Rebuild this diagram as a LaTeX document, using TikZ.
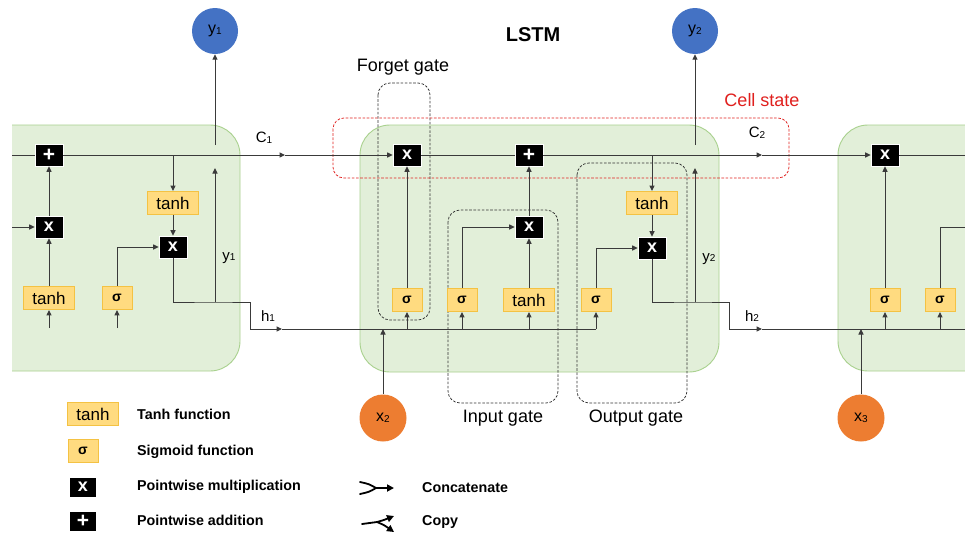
\documentclass[tikz,border=0pt]{standalone}
\usepackage{fontspec}
\setmainfont{Liberation Sans}
\usetikzlibrary{arrows.meta}

\definecolor{cellfill}{HTML}{E2EFD9}
\definecolor{celledge}{HTML}{A9D18E}
\definecolor{actfill}{HTML}{FFDB80}
\definecolor{actedge}{HTML}{F4C243}
\definecolor{outblue}{HTML}{4472C4}
\definecolor{inorange}{HTML}{ED7D31}
\definecolor{wire}{HTML}{3A3A3A}
\definecolor{statered}{HTML}{E0201E}

\newcommand\lowidx[1]{\raisebox{-0.5pt}{\fontsize{10}{10}\selectfont #1}}

\tikzset{
  cell/.style={fill=cellfill, draw=celledge, line width=0.9pt, rounded corners=30pt},
  act/.style={fill=actfill, draw=actedge, line width=0.9pt, inner sep=0pt, minimum height=23pt},
  tanhbox/.style={act, minimum width=51pt, font=\fontsize{17}{17}\selectfont},
  sigbox/.style={act, minimum width=30pt, font=\bfseries\fontsize{14}{14}\selectfont},
  opbox/.style={fill=black, draw=white, line width=0.6pt, text=white, inner sep=0pt,
                minimum width=28pt, minimum height=22pt, font=\bfseries\fontsize{18}{18}\selectfont},
  addbox/.style={opbox, font=\bfseries\fontsize{21}{21}\selectfont},
  wireline/.style={draw=wire, line width=1pt},
  flow/.style={wireline, -{Triangle[length=5.5pt,width=5pt]}},
  keyline/.style={draw=black, line width=1.8pt},
  keyflow/.style={keyline, -{Triangle[length=7pt,width=7pt]}},
  gatebox/.style={draw=black!80, dash pattern=on 2.6pt off 1.6pt, line width=0.75pt, rounded corners=12pt},
  statebox/.style={draw=statered, dash pattern=on 2.6pt off 1.6pt, line width=0.75pt, rounded corners=11pt},
  outnode/.style={circle, fill=outblue, minimum size=46pt, inner sep=0pt, font=\fontsize{16}{16}\selectfont},
  innode/.style={circle, fill=inorange, minimum size=47pt, inner sep=0pt, font=\fontsize{16}{16}\selectfont},
  gatelabel/.style={font=\fontsize{18}{18}\selectfont},
  varlabel/.style={font=\fontsize{15}{15}\selectfont, inner sep=0pt},
  legendtext/.style={anchor=west, font=\bfseries\fontsize{14.3}{14.3}\selectfont, inner sep=0pt},
}

\begin{document}
\begin{tikzpicture}[x=1pt, y=-1pt]
\useasboundingbox (0,0) rectangle (965,536);
\fill[white] (0,0) rectangle (965,536);

% ---- cell backgrounds (outer cells run past the page edges) ----
\begin{scope}
  \clip (12,0) rectangle (965,536);
  \draw[cell] (-80,125) rectangle (240,371);
  \draw[cell] (838,125) rectangle (1160,371);
\end{scope}
\draw[cell] (360,125) rectangle (719,372);

% ---- gate outlines ----
\draw[gatebox] (378,83) rectangle (430,320);
\draw[gatebox] (448,210) rectangle (558,403);
\draw[gatebox] (577,163) rectangle (687,403);
\draw[statebox] (333,118) rectangle (789,178);

\node[gatelabel] (lforget) at (403,67) {Forget gate};
\node[gatelabel] (linput) at (503,418) {Input gate};
\node[gatelabel] (loutput) at (636,418) {Output gate};
\node[gatelabel, text=statered] (lstate) at (762,100) {Cell state};
\node[font=\bfseries\fontsize{20}{20}\selectfont] (title) at (533,35) {LSTM};

% ---- previous cell ----
\node[addbox] (aplus) at (49,155) {+};
\node[opbox] (amul)  at (49,227) {x};
\node[tanhbox] (atanh) at (49,298) {tanh};
\node[sigbox] (asig) at (117,298) {σ};
\node[tanhbox] (atanh2) at (173,203) {tanh};
\node[opbox] (amulo) at (173,247) {x};

% ---- current cell ----
\node[opbox] (bmul)  at (407,155) {x};
\node[addbox] (bplus) at (529,155) {+};
\node[opbox] (bmuli) at (529,227) {x};
\node[sigbox] (bsigf) at (407,300) {σ};
\node[sigbox] (bsigi) at (462,300) {σ};
\node[tanhbox] (btanh) at (529,300) {tanh};
\node[sigbox] (bsigo) at (596,300) {σ};
\node[tanhbox] (btanh2) at (652,203) {tanh};
\node[opbox] (bmulo) at (652,248) {x};

% ---- next cell ----
\node[opbox] (cmul) at (885,155) {x};
\node[sigbox] (csig1) at (885,300) {σ};
\node[sigbox] (csig2) at (940,300) {σ};

% ---- inputs and outputs ----
\node[outnode] (y1) at (215,31) {y\lowidx{1}};
\node[outnode] (y2) at (695,31) {y\lowidx{2}};
\node[innode] (x2) at (383,418) {x\lowidx{2}};
\node[innode] (x3) at (861,418) {x\lowidx{3}};

% ---- wire labels ----
\node[varlabel] (lc1) at (264,138) {C\lowidx{1}};
\node[varlabel] (lc2) at (757,133) {C\lowidx{2}};
\node[varlabel] (ly1) at (229,258) {y\lowidx{1}};
\node[varlabel] (ly2) at (709,259) {y\lowidx{2}};
\node[varlabel] (lh1) at (268,316) {h\lowidx{1}};
\node[varlabel] (lh2) at (752,316) {h\lowidx{2}};

% ---- junction and bend points ----
\coordinate (cin)   at (12,155);
\coordinate (ain)   at (12,227);
\coordinate (atin)  at (49,328);
\coordinate (asin)  at (117,328);
\coordinate (aj)    at (173,155);
\coordinate (ay)    at (215,302);
\coordinate (ayup)  at (215,168);
\coordinate (aytop) at (215,145);
\coordinate (ah1)   at (250,302);
\coordinate (ah2)   at (250,329);
\coordinate (c1tip) at (285,155);
\coordinate (h1tip) at (282,329);
\coordinate (bx)    at (383,329);
\coordinate (bf)    at (407,329);
\coordinate (bi)    at (462,329);
\coordinate (bt)    at (529,329);
\coordinate (bo)    at (596,329);
\coordinate (bj)    at (652,155);
\coordinate (by)    at (695,302);
\coordinate (byup)  at (695,168);
\coordinate (bytop) at (695,145);
\coordinate (bh1)   at (729,302);
\coordinate (bh2)   at (729,329);
\coordinate (c2tip) at (762,155);
\coordinate (h2tip) at (762,329);
\coordinate (cx)    at (861,329);
\coordinate (cs1)   at (885,329);
\coordinate (cs2)   at (940,329);
\coordinate (hout)  at (965,329);
\coordinate (cout)  at (965,155);
\coordinate (gout)  at (965,227);

% ---- previous cell wiring ----
\draw[wireline] (cin) -- (aplus);
\draw[flow] (ain) -- (amul);
\draw[flow] (amul) -- (aplus);
\draw[flow] (atanh) -- (amul);
\draw[flow] (atin) -- (atanh);
\draw[flow] (asin) -- (asig);
\draw[flow] (asig.north) |- (amulo.west);
\draw[flow] (aj) -- (atanh2);
\draw[flow] (atanh2) -- (amulo);
\draw[wireline] (amulo.south) |- (ay) -- (ah1) -- (ah2);
\draw[flow] (ay) -- (ayup);
\draw[flow] (aytop) -- (y1);
\draw[flow] (aplus) -- (c1tip);
\draw[flow] (c1tip) -- (bmul);
\draw[flow] (ah2) -- (h1tip);
\draw[wireline] (h1tip) -- (bo);

% ---- current cell wiring ----
\draw[flow] (x2) -- (bx);
\draw[flow] (bf) -- (bsigf);
\draw[flow] (bi) -- (bsigi);
\draw[flow] (bt) -- (btanh);
\draw[flow] (bo) -- (bsigo);
\draw[flow] (bsigf) -- (bmul);
\draw[flow] (bsigi.north) |- (bmuli.west);
\draw[flow] (btanh) -- (bmuli);
\draw[flow] (bmuli) -- (bplus);
\draw[wireline] (bmul) -- (bplus);
\draw[flow] (bj) -- (btanh2);
\draw[flow] (btanh2) -- (bmulo);
\draw[flow] (bsigo.north) |- (bmulo.west);
\draw[wireline] (bmulo.south) |- (by) -- (bh1) -- (bh2);
\draw[flow] (by) -- (byup);
\draw[flow] (bytop) -- (y2);
\draw[flow] (bplus) -- (c2tip);
\draw[flow] (c2tip) -- (cmul);
\draw[flow] (bh2) -- (h2tip);
\draw[wireline] (h2tip) -- (hout);

% ---- next cell wiring ----
\draw[flow] (x3) -- (cx);
\draw[flow] (cs1) -- (csig1);
\draw[flow] (cs2) -- (csig2);
\draw[flow] (csig1) -- (cmul);
\draw[wireline] (csig2.north) |- (gout);
\draw[wireline] (cmul) -- (cout);

% ---- legend ----
\node[tanhbox] (kt) at (93,414) {tanh};
\node[sigbox] (ks) at (83,451) {σ};
\node[opbox, minimum width=27pt, minimum height=20pt] (km) at (83,487) {x};
\node[addbox, minimum width=27pt, minimum height=20pt] (ka) at (83,521) {+};
\node[legendtext] (ktt) at (137,414) {Tanh function};
\node[legendtext] (kst) at (137,452) {Sigmoid function};
\node[legendtext] (kmt) at (137,487) {Pointwise multiplication};
\node[legendtext] (kat) at (137,520) {Pointwise addition};
\node[legendtext] (kct) at (422,488) {Concatenate};
\node[legendtext] (kcp) at (422,522) {Copy};

% concatenate symbol: two strands merge into one arrow
\coordinate (cc1) at (360,482);
\coordinate (cc2) at (360,494);
\coordinate (ccm) at (376,488);
\coordinate (cce) at (394,488);
\draw[keyline, line cap=round] (cc1) .. controls (369,484) .. (ccm);
\draw[keyline, line cap=round] (cc2) .. controls (369,492) .. (ccm);
\draw[keyflow] (ccm) -- (cce);

% copy symbol: one strand splits into two arrows
\coordinate (cp0) at (362,524);
\coordinate (cpm) at (377,522);
\coordinate (cpa) at (394,516);
\coordinate (cpb) at (394,532);
\draw[keyline, line cap=round] (cp0) -- (cpm);
\draw[keyflow] (cpm) .. controls (384,520) .. (cpa);
\draw[keyflow] (cpm) .. controls (384,525) .. (cpb);
\end{tikzpicture}
\end{document}
